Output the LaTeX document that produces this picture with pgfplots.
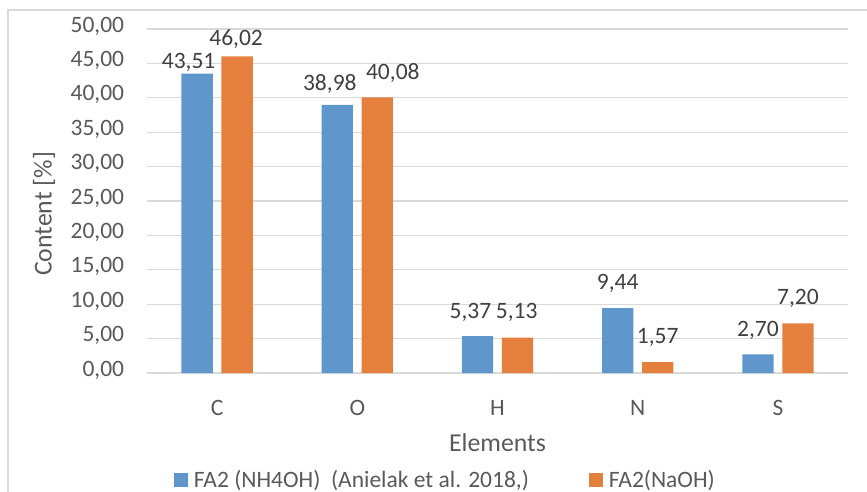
\documentclass[border=0pt]{standalone}
\usepackage{pgfplots}
\pgfplotsset{compat=1.18}
\usepackage{pgfplotstable}
\usepackage{fontspec}
\setmainfont{Carlito}
\definecolor{barblue}{HTML}{5F96CB}
\definecolor{barorange}{HTML}{E47F3E}
\definecolor{gridc}{HTML}{D9D9D9}
\definecolor{labc}{HTML}{595959}
\definecolor{datac}{HTML}{404040}
\newcommand{\tickfont}{\fontsize{23.5bp}{28bp}\selectfont}
\newcommand{\titlefont}{\fontsize{25.8bp}{30bp}\selectfont}
\pgfplotsset{sqlegend/.style={legend image code/.code={\fill[##1] (0bp,-7bp) rectangle (14bp,7bp);}}}

\pgfplotstableread{
x y dx gap
0 43.51 -8.5 5
1 38.98 -7.5 14.3
2 5.37 -7 17.7
3 9.44 0 18.3
4 2.70 0 17.6
}\bluedata
\pgfplotstableread{
x y dx gap
0 46.02 -1 11
1 40.08 15.5 18
2 5.13 -0.8 19.4
3 1.57 0 19
4 7.20 0 19.3
}\orangedata

\begin{document}
\begin{tikzpicture}
\useasboundingbox (0,0) rectangle (867bp,492bp);
\draw[gridc, line width=1.5bp] (8bp,0) -- (8bp,482bp) -- (867bp,482bp);
\begin{axis}[
  at={(147bp,119bp)}, anchor=south west,
  scale only axis, width=701bp, height=344bp,
  xmin=-0.5, xmax=4.5, ymin=0, ymax=50,
  ybar=8.7bp, bar width=31.3bp,
  xtick={0,...,4}, xticklabels={C,O,H,N,S},
  ytick={0,5,...,50},
  axis x line*=bottom, axis y line*=left,
  y axis line style={draw=none},
  x axis line style={gridc, line width=1.3bp},
  tick style={draw=none},
  ymajorgrids, grid style={gridc, line width=1.3bp},
  /pgf/number format/fixed,
  /pgf/number format/fixed zerofill,
  /pgf/number format/precision=2,
  /pgf/number format/use comma,
  /pgf/number format/assume math mode=true,
  yticklabel style={anchor=east, inner sep=0pt, xshift=-22.7bp, font=\tickfont, text=labc, text height=0.63em, text depth=0pt},
  xticklabel style={anchor=base, inner sep=0pt, yshift=-38.7bp, font=\tickfont, text=labc},
  xlabel={Elements},
  xlabel style={at={(axis description cs:0.5,-0.22674)}, anchor=base, inner sep=0pt, font=\titlefont, text=labc},
  ylabel={Content [\%]},
  ylabel style={at={(axis description cs:-0.13623,0.4622)}, anchor=base, inner sep=0pt, font=\titlefont, text=labc},
  legend columns=2,
  legend style={at={(axis description cs:0.0385,-0.311)}, anchor=west, draw=none, fill=none, inner sep=0pt, outer sep=0pt, font=\tickfont, text=labc, nodes={inner sep=0pt},
    /tikz/every odd column/.append style={column sep=6bp},
    /tikz/every even column/.append style={column sep=60bp}},
  clip=false,
]
\addplot[fill=barblue, draw=none,
  visualization depends on={\thisrow{dx} \as \lblx},
  visualization depends on={\thisrow{gap} \as \lbly},
  nodes near coords,
  every node near coord/.append style={font=\tickfont, text=datac, anchor=base, xshift=\lblx bp, yshift=\lbly bp},
  sqlegend
] table[x=x, y=y] {\bluedata};
\addlegendentry{FA2 (NH4OH)\ \ (Anielak et al. 2018,)}
\addplot[fill=barorange, draw=none,
  visualization depends on={\thisrow{dx} \as \lblx},
  visualization depends on={\thisrow{gap} \as \lbly},
  nodes near coords,
  every node near coord/.append style={font=\tickfont, text=datac, anchor=base, xshift=\lblx bp, yshift=\lbly bp},
  sqlegend
] table[x=x, y=y] {\orangedata};
\addlegendentry{FA2(NaOH)}
\end{axis}
\end{tikzpicture}
\end{document}
